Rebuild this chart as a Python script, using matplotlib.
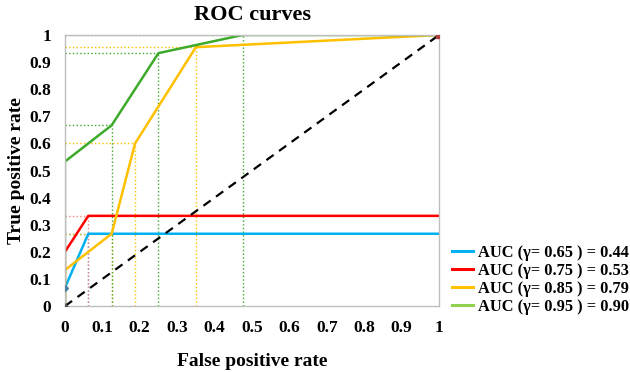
import matplotlib
matplotlib.use('Agg')
import matplotlib.pyplot as plt
from matplotlib.lines import Line2D

# ── Data ──────────────────────────────────────────────────────────────────────
gammas = ['0.65', '0.75', '0.85', '0.95']
aucs   = ['0.44', '0.53', '0.79', '0.90']

fpr_065 = [0, 0, 0.0625, 1]
tpr_065 = [0, 0.067, 0.267, 0.267]

fpr_075 = [0, 0, 0.0625, 1]
tpr_075 = [0, 0.2, 0.333, 0.333]

fpr_085 = [0, 0, 0.125, 0.1875, 0.35, 1]
tpr_085 = [0, 0.133, 0.267, 0.6, 0.955, 1]

fpr_095 = [0, 0, 0.125, 0.25, 0.475, 1]
tpr_095 = [0, 0.533, 0.667, 0.933, 1, 1]

ticks = [0, 0.1, 0.2, 0.3, 0.4, 0.5, 0.6, 0.7, 0.8, 0.9, 1]
tick_labels = ['0', '0.1', '0.2', '0.3', '0.4', '0.5', '0.6', '0.7', '0.8', '0.9', '1']

# ── Style ─────────────────────────────────────────────────────────────────────
plt.rcParams['font.family'] = ['Liberation Serif', 'DejaVu Serif']
plt.rcParams['font.weight'] = 'bold'

line_colors   = ['#00B0F0', '#FF0000', '#FFC000', '#3DAA2A']
legend_colors = ['#00B0F0', '#FF0000', '#FFC000', '#92D050']
guide_colors  = ['#00B0F0', '#FF8080', '#FFC000', '#3DAA2A']

series = [(fpr_065, tpr_065), (fpr_075, tpr_075),
          (fpr_085, tpr_085), (fpr_095, tpr_095)]

fig = plt.figure(figsize=(6.3, 3.72), dpi=100)
ax = fig.add_axes([0.103, 0.177, 0.594, 0.729])

# dotted guide lines from interior vertices to the axes
for (fx, ty), gc in zip(series, guide_colors):
    for x, y in zip(fx, ty):
        if x <= 0 or x >= 1:
            continue
        ax.plot([x, x], [0, y], color=gc, lw=1.0, ls=':', zorder=1)
        ax.plot([0, x], [y, y], color=gc, lw=1.0, ls=':', zorder=1)

# diagonal
ax.plot([0, 1], [0, 1], color='black', lw=1.6, ls=(0, (4, 3)), zorder=3)
ax.plot([0], [0], marker='D', ms=2.5, color='#555555', zorder=4)

for (fx, ty), c in zip(series, line_colors):
    ax.plot(fx, ty, color=c, lw=1.8, zorder=2)

ax.plot([0], [0.067], marker='D', ms=3, color='#4a7fa0', zorder=5)
ax.plot([1], [1], marker='s', ms=4, color='#b04040', zorder=5)

ax.set_xlim(0, 1)
ax.set_ylim(0, 1)
ax.set_xticks(ticks)
ax.set_xticklabels(tick_labels)
ax.set_yticks(ticks)
ax.set_yticklabels(tick_labels)
ax.tick_params(length=0, labelsize=12.5)
ax.tick_params(axis='x', pad=10)
ax.tick_params(axis='y', pad=10)
for s in ax.spines.values():
    s.set_color('#BFBFBF')
    s.set_linewidth(1.0)

ax.set_title('ROC curves', fontsize=16, fontweight='bold', pad=11)
ax.set_xlabel('False positive rate', fontsize=14, fontweight='bold', labelpad=12)
ax.set_ylabel('True positive rate', fontsize=14, fontweight='bold', labelpad=3)

handles = [Line2D([], [], color=c, lw=2.2) for c in legend_colors]
labels = ['AUC (\u03b3= %s ) = %s' % (g, a) for g, a in zip(gammas, aucs)]
fig.legend(handles, labels, loc='center left', bbox_to_anchor=(0.717, 0.247),
           frameon=False, fontsize=11.8, handlelength=1.3, handletextpad=0.3,
           labelspacing=0.12, borderaxespad=0, borderpad=0)

fig.savefig('out.png', dpi=100)
